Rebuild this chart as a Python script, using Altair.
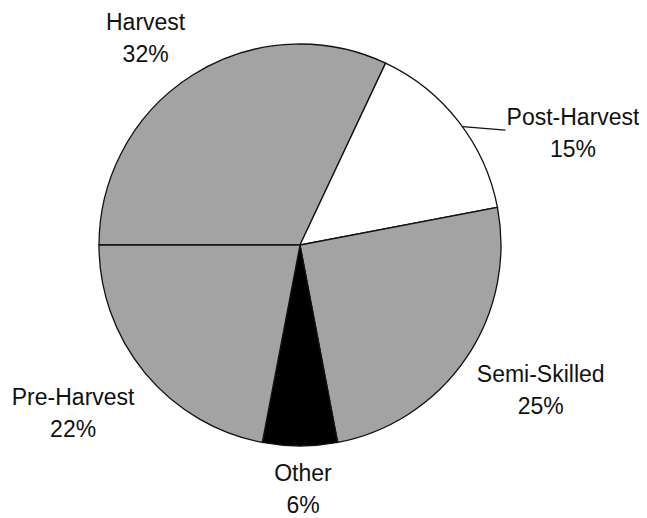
import math
import altair as alt
import pandas as pd

categories = ["Harvest", "Post-Harvest", "Semi-Skilled", "Other", "Pre-Harvest"]
values = [32, 15, 25, 6, 22]
colors = ["#a3a3a3", "#ffffff", "#a3a3a3", "#000000", "#a3a3a3"]

df = pd.DataFrame({"category": categories, "value": values, "idx": list(range(len(categories)))})

W, H = 584, 474
CX, CY = W / 2, H / 2
R = 201
START = -math.pi / 2

base = alt.Chart(df)

pie = base.mark_arc(outerRadius=R, stroke="#111111", strokeWidth=1.3).encode(
    theta=alt.Theta("value:Q", stack=True,
                    scale=alt.Scale(range=[START, START + 2 * math.pi])),
    color=alt.Color("category:N", scale=alt.Scale(domain=categories, range=colors), legend=None),
    order=alt.Order("idx:Q"),
)

stacked = (
    base.transform_window(cum="sum(value)", sort=[alt.SortField("idx")], frame=[None, 0])
    .transform_joinaggregate(total="sum(value)")
    .transform_calculate(
        mid=f"{START} + 2*PI*(datum.cum - datum.value/2)/datum.total",
        label="datum.category + '|' + datum.value + '%'",
    )
)

offsets = {
    "Harvest": (-14, -1),
    "Post-Harvest": (66, 34),
    "Semi-Skilled": (24, -17),
    "Other": (3, -33),
    "Pre-Harvest": (-25, -14),
}

layers = [pie]
for c in categories:
    dx, dy = offsets[c]
    layers.append(
        stacked.transform_filter(alt.datum.category == c)
        .mark_text(font="Liberation Sans", fontSize=23, lineBreak="|", lineHeight=32,
                   align="center", baseline="middle", color="#111111", dx=dx, dy=dy)
        .encode(theta=alt.Theta("mid:Q", scale=None), radius=alt.value(262),
                text=alt.Text("label:N"))
    )

leader = (
    stacked.transform_filter(alt.datum.category == "Post-Harvest")
    .transform_calculate(
        lx=f"{CX} + {R}*sin(datum.mid + 0.03)",
        ly=f"{CY} - {R}*cos(datum.mid + 0.03)",
    )
    .transform_calculate(lx2="datum.lx + 43", ly2="datum.ly + 3.5")
    .mark_rule(color="#111111", strokeWidth=1.5)
    .encode(
        x=alt.X("lx:Q", scale=None, axis=None),
        y=alt.Y("ly:Q", scale=None, axis=None),
        x2="lx2:Q",
        y2="ly2:Q",
    )
)
layers.append(leader)

chart = (
    alt.layer(*layers)
    .properties(width=W, height=H, autosize="none",
                padding={"left": 0, "top": 0, "right": 47, "bottom": 36})
    .configure_view(strokeWidth=0)
)

chart.save("out.html", embed_options={"renderer": "svg", "actions": False})
